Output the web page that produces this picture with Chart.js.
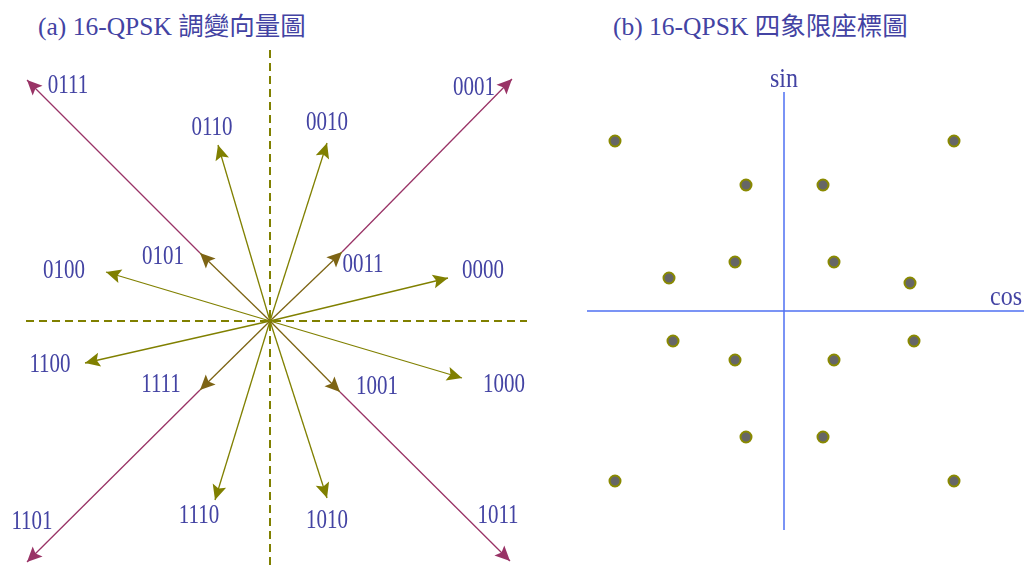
<!DOCTYPE html>
<html>
<head>
<meta charset="utf-8">
<script src="https://cdn.jsdelivr.net/npm/chart.js@4.4.0/dist/chart.umd.min.js"></script>
<style>
  body { margin: 0; background: #fff; }
  #page { position: relative; width: 1024px; height: 567px; overflow: hidden; }
  canvas { position: absolute; top: 0; }
  #vecChart { left: 0; }
  #constChart { left: 540px; }
  .caption {
    position: absolute; top: 5px; margin: 0;
    font: 25.5px "Liberation Serif", "Noto Sans CJK TC", serif;
    color: #4343a3; white-space: nowrap; font-weight: normal;
  }
</style>
</head>
<body>
<div id="page">
  <h2 class="caption" style="left:38px">(a) 16-QPSK 調變向量圖</h2>
  <h2 class="caption" style="left:613px">(b) 16-QPSK 四象限座標圖</h2>
  <canvas id="vecChart" width="540" height="567"></canvas>
  <canvas id="constChart" width="484" height="567"></canvas>
</div>
<script>
// 16 symbols and the tip of each modulation vector (cos, sin components)
const symbols = ['0000', '0001', '0010', '0011', '0100', '0101', '0110', '0111',
                 '1000', '1001', '1010', '1011', '1100', '1101', '1110', '1111'];
const tipX = [178, 242, 57, 72, -164, -70, -52, -243, 192, 70, 57, 240, -185, -243, -55, -70];
const tipY = [43, 242, 178, 69, 49, 68, 176, 241, -57, -71, -177, -240, -42, -241, -179, -69];

// long diagonal vectors continue from the tip of the short one
const baseOf = { '0001': '0011', '0111': '0101', '1011': '1001', '1101': '1111' };

// dashed reference axes of the vector diagram
const dashV = [271, -244];
const dashH = [-244, 257];

// constellation points
const pointX = [-169, 170, -38, 39, -49, 50, -115, 126, -111, 130, -49, 50, -38, 39, -169, 170];
const pointY = [170, 170, 126, 126, 49, 49, 33, 28, -30, -30, -49, -49, -126, -126, -170, -170];

// cos / sin axes of the constellation
const cosAxis = [-197, 240];
const sinAxis = [219, -219];

// where each symbol label sits relative to its vector tip
const labelDx = [35, -38, 0, 21, -42, -37, -6, 41, 42, 37, 0, -12, -35, 5, -16, -39];
const labelDy = [7, -9, 20, -13, 1, -4, 17, -6, -7, 5, -23, 45, -2, 40, -16, 5];

const OLIVE = '#808000';
const BROWN = '#7d6414';
const MAGENTA = '#993366';
const TEXT = '#4343a3';

const arrowHeads = {
  id: 'arrowHeads',
  afterDatasetsDraw(chart) {
    const ctx = chart.ctx;
    chart.data.datasets.forEach((ds, i) => {
      if (!ds.arrowHead) return;
      const pts = chart.getDatasetMeta(i).data;
      const a = pts[pts.length - 2], b = pts[pts.length - 1];
      const ang = Math.atan2(b.y - a.y, b.x - a.x);
      const len = 15, half = 7;
      ctx.save();
      ctx.translate(b.x, b.y);
      ctx.rotate(ang);
      ctx.beginPath();
      ctx.moveTo(0, 0);
      ctx.lineTo(-len, -half);
      ctx.lineTo(-len + 3, 0);
      ctx.lineTo(-len, half);
      ctx.closePath();
      ctx.fillStyle = ds.borderColor;
      ctx.fill();
      ctx.restore();
    });
  }
};

// text placed in data coordinates, stretched vertically like the source lettering
const textMarks = {
  id: 'textMarks',
  afterDraw(chart, args, opts) {
    const ctx = chart.ctx;
    const xs = chart.scales.x, ys = chart.scales.y;
    ctx.save();
    ctx.font = opts.font;
    ctx.fillStyle = opts.color;
    ctx.textAlign = 'center';
    ctx.textBaseline = 'middle';
    opts.items.forEach(it => {
      ctx.save();
      ctx.translate(xs.getPixelForValue(it.x), ys.getPixelForValue(it.y));
      ctx.scale(1, opts.stretch);
      ctx.fillText(it.text, 0, 0);
      ctx.restore();
    });
    ctx.restore();
  }
};

function lineSet(data, color, width, extra) {
  return Object.assign({
    type: 'scatter', data, showLine: true, borderColor: color, backgroundColor: color,
    borderWidth: width, pointRadius: 0, clip: false
  }, extra || {});
}

// vector diagram
const vecSets = [
  lineSet([{ x: 0, y: dashV[0] }, { x: 0, y: dashV[1] }], OLIVE, 2, { borderDash: [8, 5] }),
  lineSet([{ x: dashH[0], y: 0 }, { x: dashH[1], y: 0 }], OLIVE, 2, { borderDash: [8, 5] })
];
symbols.forEach((s, i) => {
  let start = { x: 0, y: 0 }, color = OLIVE;
  if (baseOf[s]) {
    const j = symbols.indexOf(baseOf[s]);
    start = { x: tipX[j], y: tipY[j] };
    color = MAGENTA;
  } else if (Object.values(baseOf).includes(s)) {
    color = BROWN;
  }
  vecSets.push(lineSet([start, { x: tipX[i], y: tipY[i] }], color, 1.3, { arrowHead: true }));
});

const hiddenScales = (x0, x1, y0, y1) => ({
  x: { type: 'linear', min: x0, max: x1, display: false },
  y: { type: 'linear', min: y0, max: y1, display: false }
});

new Chart(document.getElementById('vecChart'), {
  type: 'scatter',
  data: { datasets: vecSets },
  options: {
    responsive: false,
    animation: false,
    layout: { padding: 0, autoPadding: false },
    scales: hiddenScales(-270, 270, -246, 321),
    plugins: {
      legend: { display: false },
      tooltip: { enabled: false },
      textMarks: {
        font: '21px "Liberation Serif", serif',
        color: TEXT,
        stretch: 1.3,
        items: symbols.map((s, i) => ({ text: s, x: tipX[i] + labelDx[i], y: tipY[i] + labelDy[i] }))
      }
    }
  },
  plugins: [arrowHeads, textMarks]
});

// constellation diagram
const AXIS_BLUE = '#4f70f2';
new Chart(document.getElementById('constChart'), {
  type: 'scatter',
  data: {
    datasets: [
      {
        data: pointX.map((x, i) => ({ x, y: pointY[i] })),
        pointRadius: 5.5,
        borderWidth: 2,
        backgroundColor: '#666666',
        borderColor: '#8a8a00',
        clip: false
      },
      lineSet([{ x: cosAxis[0], y: 0 }, { x: cosAxis[1], y: 0 }], AXIS_BLUE, 1.5),
      lineSet([{ x: 0, y: sinAxis[0] }, { x: 0, y: sinAxis[1] }], AXIS_BLUE, 1.5)
    ]
  },
  options: {
    responsive: false,
    animation: false,
    layout: { padding: 0, autoPadding: false },
    scales: hiddenScales(-244, 240, -256, 311),
    plugins: {
      legend: { display: false },
      tooltip: { enabled: false },
      textMarks: {
        font: '24px "Liberation Serif", serif',
        color: TEXT,
        stretch: 1.15,
        items: [
          { text: 'sin', x: 0, y: 231 },
          { text: 'cos', x: 222, y: 13 }
        ]
      }
    }
  },
  plugins: [textMarks]
});
</script>
</body>
</html>
